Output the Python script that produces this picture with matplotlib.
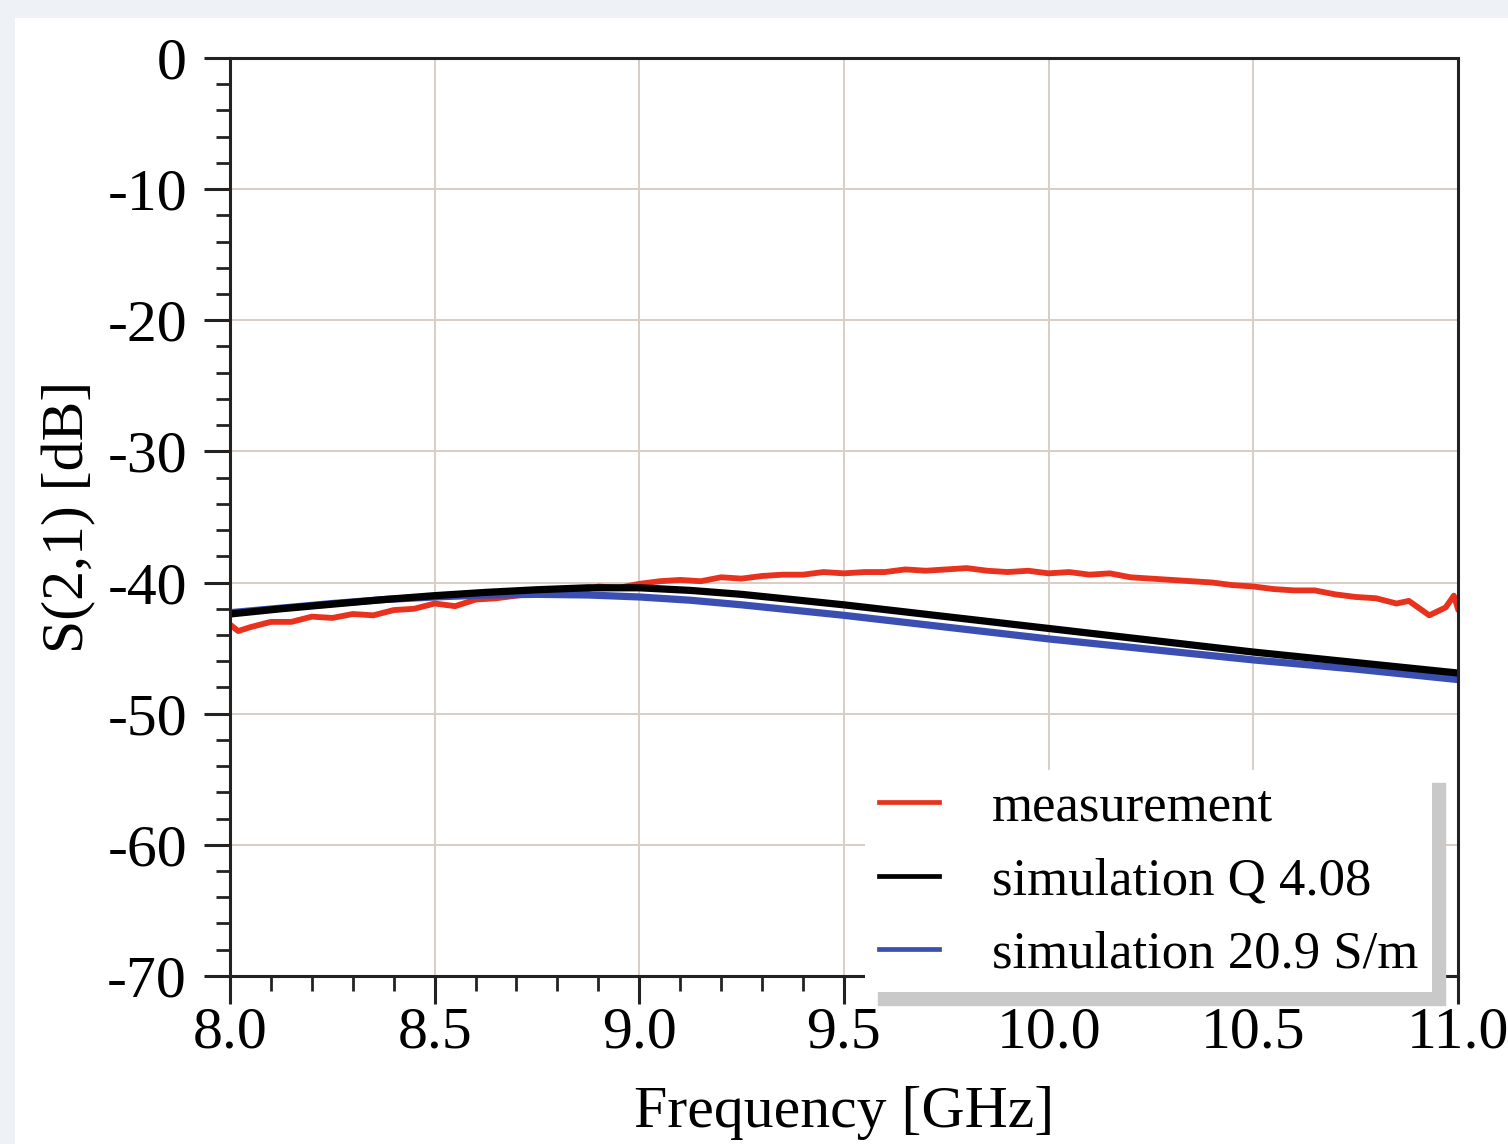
import matplotlib
matplotlib.use("Agg")
from matplotlib import pyplot as plt
from matplotlib.patches import Rectangle
from matplotlib.ticker import MultipleLocator, FormatStrFormatter

# measured S21 [GHz], [dB]
freq_meas = [8.00, 8.02, 8.05, 8.10, 8.15, 8.20, 8.25, 8.30, 8.35, 8.40, 8.45,
             8.50, 8.55, 8.60, 8.65, 8.70, 8.75, 8.80, 8.85, 8.90, 8.95,
             9.00, 9.05, 9.10, 9.15, 9.20, 9.25, 9.30, 9.35, 9.40, 9.45,
             9.50, 9.55, 9.60, 9.65, 9.70, 9.75, 9.80, 9.85, 9.90, 9.95,
             10.00, 10.05, 10.10, 10.15, 10.20, 10.25, 10.30, 10.35, 10.40, 10.45,
             10.50, 10.55, 10.60, 10.65, 10.70, 10.75, 10.80, 10.85, 10.88, 10.93,
             10.97, 10.99, 11.00]
s21_meas = [-43.2, -43.7, -43.4, -43.0, -43.0, -42.6, -42.7, -42.4, -42.5, -42.1, -42.0,
            -41.6, -41.8, -41.3, -41.2, -41.0, -40.8, -40.6, -40.7, -40.3, -40.4,
            -40.1, -39.9, -39.8, -39.9, -39.6, -39.7, -39.5, -39.4, -39.4, -39.2,
            -39.3, -39.2, -39.2, -39.0, -39.1, -39.0, -38.9, -39.1, -39.2, -39.1,
            -39.3, -39.2, -39.4, -39.3, -39.6, -39.7, -39.8, -39.9, -40.0, -40.2,
            -40.3, -40.5, -40.6, -40.6, -40.9, -41.1, -41.2, -41.6, -41.4, -42.5,
            -41.9, -41.0, -42.0]

# simulations
freq_sim = [8.0, 8.125, 8.25, 8.375, 8.5, 8.625, 8.75, 8.875, 9.0, 9.125, 9.25, 9.375,
            9.5, 9.625, 9.75, 9.875, 10.0, 10.125, 10.25, 10.375, 10.5, 10.625, 10.75,
            10.875, 11.0]
s21_q = [-42.4, -42.0, -41.65, -41.3, -41.0, -40.75, -40.55, -40.4, -40.4, -40.6, -40.9,
         -41.3, -41.7, -42.15, -42.6, -43.05, -43.5, -43.95, -44.4, -44.85, -45.3, -45.7,
         -46.1, -46.5, -46.9]
s21_sigma = [-42.3, -41.95, -41.6, -41.3, -41.1, -40.95, -40.9, -40.95, -41.1, -41.35, -41.7,
             -42.1, -42.5, -42.95, -43.4, -43.85, -44.3, -44.7, -45.1, -45.5, -45.9, -46.25,
             -46.6, -47.0, -47.4]

labels = ["measurement", "simulation Q 4.08", "simulation 20.9 S/m"]

plt.rcParams['font.family'] = ['Liberation Serif', 'DejaVu Serif']

fig = plt.figure(figsize=(15.08, 11.44), dpi=100, facecolor='#eef1f6')
fig.patches.append(Rectangle((0.01, 0), 0.99, 0.984, transform=fig.transFigure,
                             facecolor='white', edgecolor='none', zorder=-5))
ax = fig.add_axes([0.1525, 0.1469, 0.8143, 0.8024])
ax.set_facecolor('white')

l1, = ax.plot(freq_meas, s21_meas, color='#e8321e', lw=4.2)
l3, = ax.plot(freq_sim, s21_sigma, color='#3b4fb3', lw=5.2)
l2, = ax.plot(freq_sim, s21_q, color='black', lw=5.2)

ax.set_xlim(8.0, 11.0)
ax.set_ylim(-70, 0)
ax.xaxis.set_major_locator(MultipleLocator(0.5))
ax.xaxis.set_minor_locator(MultipleLocator(0.1))
ax.yaxis.set_major_locator(MultipleLocator(10))
ax.yaxis.set_minor_locator(MultipleLocator(2))
ax.xaxis.set_major_formatter(FormatStrFormatter('%.1f'))
ax.yaxis.set_major_formatter(FormatStrFormatter('%d'))

ax.grid(True, which='major', color='#d9cec6', lw=1.4)
ax.set_axisbelow(True)
for s in ax.spines.values():
    s.set_linewidth(2.2)
    s.set_color('#222222')
ax.tick_params(axis='both', which='major', direction='out', width=2.2, labelsize=43, color='#222222')
ax.tick_params(axis='both', which='minor', direction='out', width=2.0, color='#222222')
ax.tick_params(axis='y', which='major', length=19, pad=12)
ax.tick_params(axis='y', which='minor', length=10)
ax.tick_params(axis='x', which='major', length=20, pad=2)
ax.tick_params(axis='x', which='minor', length=11)

ax.set_xlabel("Frequency [GHz]", fontsize=43, labelpad=18)
ax.set_ylabel("S(2,1) [dB]", fontsize=43, labelpad=8)

leg = ax.legend([l1, l2, l3], labels, loc='upper left',
                bbox_to_anchor=(865 / 1508, 1 - 770 / 1144), bbox_transform=fig.transFigure,
                fontsize=38, handlelength=1.15, handletextpad=1.0, labelspacing=0.48,
                borderpad=0.26, borderaxespad=0, fancybox=False, framealpha=1,
                shadow={'ox': 9, 'oy': -9, 'color': '#c9c9c9', 'alpha': 1})
leg.get_frame().set_edgecolor('none')
for h in leg.legend_handles:
    h.set_linewidth(3.4)

fig.savefig("out.png", dpi=100, facecolor=fig.get_facecolor())
